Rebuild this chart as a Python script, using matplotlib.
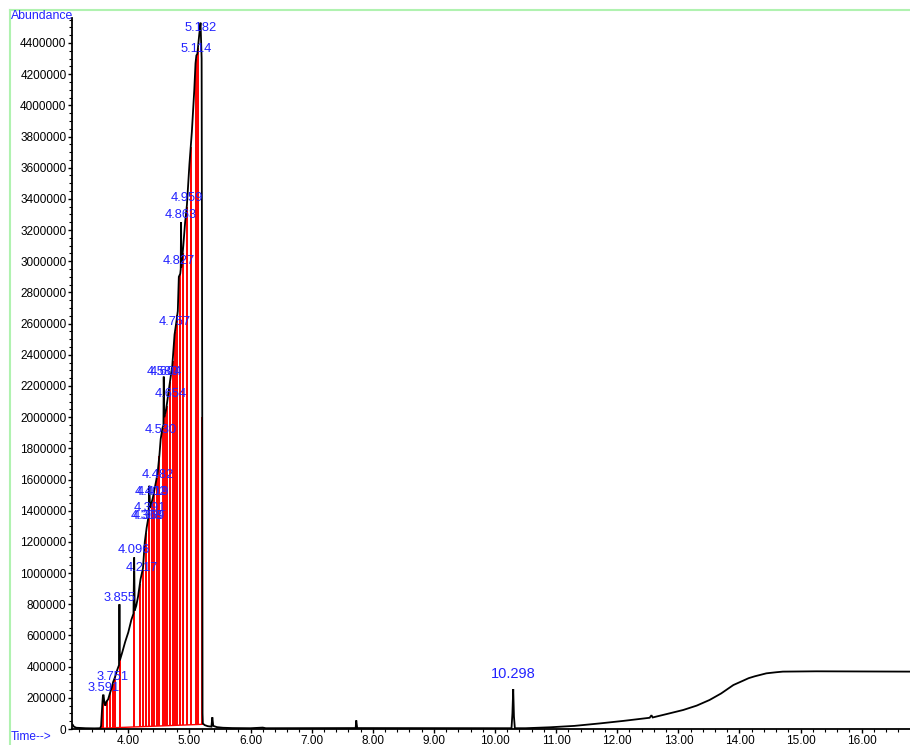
import numpy as np
import matplotlib
matplotlib.use("Agg")
import matplotlib.pyplot as plt
from matplotlib.lines import Line2D
from matplotlib.ticker import MultipleLocator, FuncFormatter

plt.rcParams['font.family'] = ['Liberation Sans', 'DejaVu Sans']

# ---- chromatogram trace (time in min, abundance) ----
trace_t = [3.079, 3.09, 3.11, 3.15, 3.30, 3.45, 3.54, 3.555, 3.575, 3.585, 3.595, 3.61, 3.625,
           3.64, 3.67, 3.70, 3.73, 3.751, 3.78, 3.82, 3.848, 3.855, 3.862, 3.90, 3.95, 4.00,
           4.05, 4.085, 4.096, 4.105, 4.13, 4.16, 4.20, 4.217, 4.24, 4.27, 4.30, 4.33, 4.345,
           4.355, 4.38, 4.40, 4.43, 4.46, 4.482, 4.51, 4.53, 4.56, 4.575, 4.58, 4.59, 4.62,
           4.654, 4.69, 4.72, 4.757, 4.79, 4.81, 4.827, 4.85, 4.858, 4.863, 4.87, 4.90, 4.93,
           4.959, 5.00, 5.04, 5.08, 5.10, 5.114, 5.13, 5.16, 5.182, 5.20, 5.21, 5.215, 5.22,
           5.25, 5.30, 5.36, 5.375, 5.39, 5.45, 5.55, 5.70, 6.00, 6.20, 6.25, 7.72, 7.73,
           7.745, 10.27, 10.285, 10.298, 10.31, 10.325, 10.50, 10.90, 11.30, 11.72, 12.10,
           12.53, 12.56, 12.58, 12.80, 13.08, 13.30, 13.51, 13.70, 13.90, 14.06, 14.15, 14.25,
           14.44, 14.60, 14.71, 15.26, 16.00, 16.79]
trace_v = [30000, 28000, 15000, 8000, 5000, 4000, 5000, 20000, 160000, 215000, 220000, 165000, 150000,
           175000, 190000, 230000, 265000, 300000, 330000, 380000, 410000, 800000, 440000, 490000, 560000, 620000,
           700000, 740000, 1100000, 760000, 790000, 850000, 960000, 990000, 1030000, 1200000, 1290000, 1360000, 1560000,
           1420000, 1450000, 1480000, 1540000, 1600000, 1650000, 1760000, 1860000, 1930000, 1950000, 2260000, 2000000, 2050000,
           2150000, 2250000, 2330000, 2530000, 2620000, 2680000, 2900000, 2920000, 2950000, 3250000, 2960000, 3100000, 3250000,
           3360000, 3620000, 3830000, 4100000, 4270000, 4320000, 4330000, 4450000, 4530000, 4300000, 2000000, 100000, 35000,
           25000, 18000, 15000, 75000, 20000, 12000, 8000, 6000, 5000, 9000, 5000, 6000, 55000,
           6000, 5000, 100000, 256000, 80000, 5000, 5000, 11000, 20000, 36000, 52000,
           72000, 88000, 74000, 95000, 122000, 150000, 186000, 228000, 282000, 310000, 326000, 338000,
           357000, 364000, 368000, 370000, 369000, 368000]

# ---- integration: baseline and drop lines ----
base_t = [3.56, 5.21]
base_v = [5000, 30000]
drop_t = [3.565, 3.591, 3.647, 3.70, 3.745, 3.782, 3.864, 4.093, 4.19, 4.235, 4.290, 4.344,
          4.383, 4.426, 4.464, 4.508, 4.562, 4.600, 4.628, 4.682, 4.726, 4.764, 4.802,
          4.846, 4.890, 4.955, 5.021, 5.108, 5.14, 5.21]

# ---- peak labels (text, time, label height) ----
peak_labels = ["3.591", "3.751", "3.855", "4.096", "4.217", "4.308", "4.369", "4.391", "4.419",
               "4.402", "4.482", "4.530", "4.654", "4.580", "4.604", "4.757", "4.827", "4.863",
               "4.959", "5.114", "5.182"]
peak_times = [3.591, 3.751, 3.855, 4.096, 4.217, 4.300, 4.330, 4.360, 4.400, 4.370, 4.482, 4.530,
              4.690, 4.560, 4.620, 4.757, 4.827, 4.863, 4.959, 5.114, 5.182]
peak_heights = [225000, 295000, 800000, 1110000, 995000, 1330000, 1330000, 1380000, 1480000, 1480000,
                1590000, 1880000, 2110000, 2250000, 2250000, 2570000, 2960000, 3260000, 3370000,
                4320000, 4460000]
big_label = "10.298"
big_time = 10.298
big_height = 256000

W, H = 910, 745
fig = plt.figure(figsize=(W / 100, H / 100), dpi=100)
ax = fig.add_axes([72 / W, 16 / H, (W - 72) / W, (729 - 18) / H])

ax.set_xlim(3.079, 16.79)
ax.set_ylim(0, 4560000)

# red integration drawing
ax.plot(base_t, base_v, color='#ff0000', lw=1.0, zorder=2)
drop_bottom = np.interp(drop_t, base_t, base_v)
drop_top = np.interp(drop_t, trace_t, trace_v)
ax.vlines(drop_t, drop_bottom, drop_top, color='#ff0000', lw=1.4, zorder=2)

# trace
ax.plot(trace_t, trace_v, color='black', lw=1.3, zorder=3, solid_joinstyle='miter')

blue = '#2222ff'
for lab, t, h in zip(peak_labels, peak_times, peak_heights):
    ax.text(t, h, lab, color=blue, fontsize=9.3, ha='center', va='bottom', zorder=4)
ax.text(big_time, big_height + 50000, big_label, color=blue, fontsize=10.5, ha='center',
        va='bottom', zorder=4)

for s in ['top', 'right']:
    ax.spines[s].set_visible(False)
for s in ['left', 'bottom']:
    ax.spines[s].set_color('black')
    ax.spines[s].set_linewidth(1.3)

ax.yaxis.set_major_locator(MultipleLocator(200000))
ax.yaxis.set_minor_locator(MultipleLocator(50000))
ax.yaxis.set_major_formatter(FuncFormatter(lambda v, p: f"{int(round(v))}"))
ax.xaxis.set_major_locator(MultipleLocator(1.0))
ax.xaxis.set_minor_locator(MultipleLocator(0.2))
ax.xaxis.set_major_formatter(FuncFormatter(lambda v, p: f"{v:.2f}"))
ax.tick_params(axis='y', which='major', length=3, width=1, labelsize=8.5, pad=1)
ax.tick_params(axis='y', which='minor', length=2, width=0.8)
ax.tick_params(axis='x', which='major', length=3, width=1, labelsize=8.5, pad=1)
ax.tick_params(axis='x', which='minor', length=2.5, width=0.8)

# green frame and axis captions
green = '#b0f2b0'
fig.add_artist(Line2D([10 / W, 10 / W], [0, 1 - 10 / H], color=green, lw=1.5,
                      transform=fig.transFigure))
fig.add_artist(Line2D([10 / W, 1], [1 - 10 / H, 1 - 10 / H], color=green, lw=1.5,
                      transform=fig.transFigure))
fig.text(11 / W, 1 - 16 / H, "Abundance", color=blue, fontsize=8.8, ha='left', va='center')
fig.text(11 / W, 2 / H, "Time-->", color=blue, fontsize=8.6, ha='left', va='bottom')

fig.savefig("out.png", dpi=100)
